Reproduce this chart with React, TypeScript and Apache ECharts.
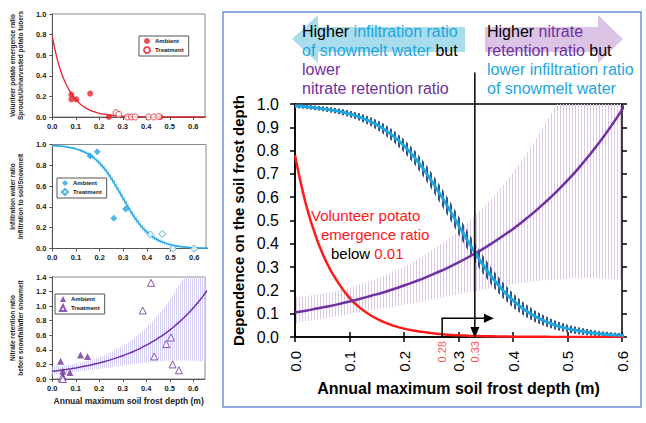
import React, { useEffect, useRef } from 'react';
import * as echarts from 'echarts';

// ---------- data ----------
const depth = [0, 0.02, 0.04, 0.06, 0.08, 0.1, 0.12, 0.14, 0.16, 0.18, 0.2, 0.22, 0.24, 0.26, 0.28, 0.3, 0.32, 0.34, 0.36, 0.38, 0.4, 0.42, 0.44, 0.46, 0.48, 0.5, 0.52, 0.54, 0.56, 0.58, 0.6, 0.62, 0.64, 0.66];
const potatoRatio = [0.78, 0.57, 0.42, 0.31, 0.23, 0.168, 0.124, 0.091, 0.067, 0.049, 0.036, 0.027, 0.02, 0.014, 0.0098, 0.0072, 0.0053, 0.0039, 0.0029, 0.0021, 0.0015, 0.0011, 0.0008, 0.0006, 0.0004, 0.0003, 0.0002, 0.0002, 0.0001, 0.0001, 0.0001, 0, 0, 0];
const infiltrationRatio = [0.991, 0.988, 0.983, 0.977, 0.969, 0.958, 0.943, 0.923, 0.897, 0.863, 0.821, 0.769, 0.707, 0.636, 0.56, 0.48, 0.401, 0.327, 0.261, 0.204, 0.157, 0.119, 0.089, 0.067, 0.049, 0.036, 0.027, 0.019, 0.014, 0.01, 0.008, 0.006, 0.004, 0.003];
const infiltrationErr = [0.008, 0.009, 0.01, 0.011, 0.012, 0.014, 0.016, 0.019, 0.022, 0.025, 0.028, 0.031, 0.034, 0.037, 0.039, 0.04, 0.04, 0.039, 0.037, 0.034, 0.031, 0.028, 0.025, 0.022, 0.019, 0.017, 0.015, 0.013, 0.011, 0.01, 0.008, 0.007, 0.006, 0.005];
const nitrateRatio = [0.105, 0.113, 0.122, 0.131, 0.141, 0.152, 0.164, 0.177, 0.19, 0.205, 0.221, 0.238, 0.256, 0.276, 0.297, 0.32, 0.345, 0.371, 0.4, 0.431, 0.464, 0.5, 0.538, 0.58, 0.624, 0.672, 0.724, 0.78, 0.84, 0.905, 0.975, 1.05, 1.131, 1.218];
const nitrateLower = [0.058, 0.066, 0.074, 0.082, 0.09, 0.098, 0.106, 0.114, 0.122, 0.13, 0.138, 0.147, 0.156, 0.165, 0.174, 0.183, 0.192, 0.201, 0.21, 0.218, 0.226, 0.233, 0.239, 0.244, 0.248, 0.251, 0.252, 0.252, 0.251, 0.249, 0.246, 0.243, 0.24, 0.236];
const nitrateUpper = [0.17, 0.175, 0.182, 0.19, 0.2, 0.212, 0.226, 0.242, 0.26, 0.28, 0.302, 0.327, 0.355, 0.386, 0.42, 0.457, 0.498, 0.543, 0.592, 0.646, 0.705, 0.77, 0.84, 0.917, 1.0, 1.09, 1.19, 1.3, 1.42, 1.55, 1.69, 1.84, 2.0, 2.18];

const potatoAmbient = [[0.081, 0.218], [0.081, 0.172], [0.102, 0.172], [0.161, 0.227], [0.241, 0.0], [0.46, 0.0]];
const potatoTreatment = [[0.271, 0.042], [0.283, 0.026], [0.32, 0.0], [0.337, 0.0], [0.353, 0.0], [0.41, 0.0], [0.432, 0.0], [0.453, 0.006]];
const infilAmbient = [[0.16, 0.89], [0.19, 0.93], [0.26, 0.29], [0.31, 0.38]];
const infilTreatment = [[0.415, 0.135], [0.465, 0.14], [0.51, 0.0], [0.6, 0.0]];
const nitrateAmbient = [[0.035, 0.245], [0.045, 0.105], [0.045, 0.04], [0.075, 0.09], [0.12, 0.33], [0.15, 0.31]];
const nitrateTreatment = [[0.04, 0.01], [0.045, 0.0], [0.385, 0.94], [0.42, 1.32], [0.434, 0.31], [0.485, 0.48], [0.505, 0.57], [0.512, 0.2], [0.539, 0.12]];

const markerDepths = [0.27, 0.33];
const markerLabels = ['0.28', '0.33'];
const crossDepth = 0.33;

// ---------- styling ----------
const SANS = '"Liberation Sans", Arial, sans-serif';
const NARROW = '"Liberation Sans Narrow", "Liberation Sans", sans-serif';
const RED = '#ff1a1a';
const CYAN = '#1ea6e0';
const PURPLE = '#7030a0';

function stripes(color: string, period: number, width: number) {
  const c = document.createElement('canvas');
  c.width = period;
  c.height = 8;
  const ctx = c.getContext('2d')!;
  ctx.fillStyle = color;
  ctx.fillRect(0, 0, width, 8);
  return { image: c, repeat: 'repeat' };
}

function bandSeries(lo: number[], hi: number[], fill: any, yMax: number, xMax: number) {
  return {
    type: 'custom',
    silent: true,
    clip: true,
    z: 1,
    data: depth.map((x, i) => [x, lo[i], hi[i]]),
    encode: { x: 0, y: [1, 2] },
    renderItem: (params: any, api: any) => {
      if (params.dataIndex !== 0) return null;
      const top: number[][] = [];
      const bot: number[][] = [];
      depth.forEach((x, i) => {
        if (x > xMax + 1e-9) return;
        top.push(api.coord([x, Math.min(hi[i], yMax)]));
        bot.push(api.coord([x, Math.max(0, Math.min(lo[i], yMax))]));
      });
      return {
        type: 'polygon',
        shape: { points: top.concat(bot.reverse()) },
        style: { fill, stroke: null },
      };
    },
  };
}

const pairs = (ys: number[]) => depth.map((x, i) => [x, ys[i]]);

function smallAxes(yMax: number, yName: string, nameGap: number) {
  return {
    xAxis: {
      type: 'value', min: 0, max: 0.65, interval: 0.1,
      axisLine: { show: true, lineStyle: { color: '#555', width: 1 } },
      axisTick: { show: true, length: 3, lineStyle: { color: '#555' } },
      axisLabel: { fontSize: 7.5, fontWeight: 'bold', color: '#222', margin: 5, showMaxLabel: false, formatter: (v: number) => v.toFixed(1) },
      splitLine: { show: false },
    },
    yAxis: {
      type: 'value', min: 0, max: yMax, interval: 0.2,
      axisLine: { show: true, lineStyle: { color: '#555', width: 1 } },
      axisTick: { show: true, length: 3, lineStyle: { color: '#555' } },
      axisLabel: { fontSize: 7.5, fontWeight: 'bold', color: '#222', margin: 6, formatter: (v: number) => v.toFixed(1) },
      splitLine: { show: false },
      name: yName, nameLocation: 'middle', nameGap,
      nameTextStyle: { fontSize: 6.5, fontWeight: 'bold', color: '#222', lineHeight: 8.5 },
    },
  };
}

function smallLegend(left: number, top: number) {
  return {
    data: ['Ambient', 'Treatment'], left, top, orient: 'vertical',
    itemWidth: 6, itemHeight: 6, itemGap: 2, padding: [2, 5, 2, 4],
    borderColor: '#555', borderWidth: 1, backgroundColor: '#fff',
    textStyle: { fontSize: 6, color: '#222', fontWeight: 'bold', fontFamily: SANS },
  };
}

export default function App() {
  const r1 = useRef<HTMLDivElement>(null);
  const r2 = useRef<HTMLDivElement>(null);
  const r3 = useRef<HTMLDivElement>(null);
  const rMain = useRef<HTMLDivElement>(null);

  useEffect(() => {
    const charts: any[] = [];
    const mk = (el: HTMLDivElement | null, opt: any) => {
      const c = echarts.init(el!, null, { renderer: 'svg' });
      c.setOption(opt);
      charts.push(c);
      return c;
    };

    // chart 1: volunteer potato
    const a1 = smallAxes(1.0, 'Volunteer potato emergence ratio\nSprouts/Unharvested potato tubers', 24);
    mk(r1.current, {
      animation: false,
      textStyle: { fontFamily: SANS },
      grid: { left: 52, top: 14, width: 153, height: 103, show: true, borderColor: '#888', borderWidth: 1 },
      ...a1,
      legend: smallLegend(139, 36),
      series: [
        { type: 'line', data: pairs(potatoRatio), showSymbol: false, smooth: 0.4, lineStyle: { color: '#e8202a', width: 1.3 }, silent: true, z: 2 },
        { type: 'scatter', name: 'Ambient', data: potatoAmbient, symbol: 'circle', symbolSize: 6, itemStyle: { color: '#e8202a' }, z: 3 },
        { type: 'scatter', name: 'Treatment', data: potatoTreatment, symbol: 'circle', symbolSize: 6, itemStyle: { color: '#fff', borderColor: '#e8202a', borderWidth: 1 }, z: 3 },
      ],
    });

    // chart 2: infiltration
    const a2 = smallAxes(1.0, 'Infiltration water ratio\nInfiltration to soil/Snowmelt', 23);
    mk(r2.current, {
      animation: false,
      textStyle: { fontFamily: SANS },
      grid: { left: 52, top: 9.5, width: 154, height: 104, show: true, borderColor: '#888', borderWidth: 1 },
      ...a2,
      legend: smallLegend(57, 43),
      series: [
        bandSeries(infiltrationRatio.map((v, i) => v - infiltrationErr[i]), infiltrationRatio.map((v, i) => v + infiltrationErr[i]), stripes('#b4dcf2', 2, 1), 1.0, 0.66),
        { type: 'line', data: pairs(infiltrationRatio), showSymbol: false, smooth: 0.4, lineStyle: { color: '#27a3dd', width: 1.5 }, silent: true, z: 2 },
        { type: 'scatter', name: 'Ambient', data: infilAmbient, symbol: 'diamond', symbolSize: 7, itemStyle: { color: '#27a3dd' }, z: 3 },
        { type: 'scatter', name: 'Treatment', data: infilTreatment, symbol: 'diamond', symbolSize: 7, itemStyle: { color: '#fff', borderColor: '#27a3dd', borderWidth: 1 }, z: 3 },
      ],
    });

    // chart 3: nitrate
    const a3 = smallAxes(1.4, 'Nitrate retention ratio\nbefore snowfall/after snowmelt', 23);
    mk(r3.current, {
      animation: false,
      textStyle: { fontFamily: SANS },
      grid: { left: 52, top: 15, width: 153, height: 102, show: true, borderColor: '#888', borderWidth: 1 },
      xAxis: {
        ...a3.xAxis,
        name: 'Annual maximum soil frost depth (m)', nameLocation: 'middle', nameGap: 15,
        nameTextStyle: { fontSize: 8.5, fontWeight: 'bold', color: '#222' },
      },
      yAxis: a3.yAxis,
      legend: smallLegend(55, 32),
      series: [
        bandSeries(nitrateLower, nitrateUpper, stripes('#d4d0ef', 2, 1), 1.4, 0.66),
        { type: 'line', data: pairs(nitrateRatio), showSymbol: false, smooth: 0.4, lineStyle: { color: PURPLE, width: 1.5 }, silent: true, z: 2 },
        { type: 'scatter', name: 'Ambient', data: nitrateAmbient, symbol: 'triangle', symbolSize: 7, itemStyle: { color: PURPLE }, z: 3 },
        { type: 'scatter', name: 'Treatment', data: nitrateTreatment, symbol: 'triangle', symbolSize: 7, itemStyle: { color: '#fff', borderColor: PURPLE, borderWidth: 1 }, z: 3 },
      ],
    });

    // main chart
    const tickStyle = { color: '#000', width: 1.5 };
    const main = mk(rMain.current, {
      animation: false,
      textStyle: { fontFamily: SANS },
      grid: { left: 77, top: 104, width: 327, height: 233, show: true, borderColor: '#000', borderWidth: 1.5 },
      xAxis: [
        {
          type: 'value', min: 0, max: 0.6, interval: 0.1,
          axisLine: { show: true, lineStyle: tickStyle },
          axisTick: { show: true, length: 5, lineStyle: tickStyle },
          axisLabel: { rotate: 90, margin: 14, fontSize: 15, color: '#000', fontFamily: NARROW, formatter: (v: number) => v.toFixed(1) },
          splitLine: { show: false },
          name: 'Annual maximum soil frost depth (m)', nameLocation: 'middle', nameGap: 43,
          nameTextStyle: { fontSize: 16, fontWeight: 'bold', color: '#000', fontFamily: SANS },
        },
        {
          type: 'value', min: 0, max: 0.6, interval: 0.1, position: 'top', offset: -233,
          axisLine: { show: false }, axisTick: { show: true, length: 5, lineStyle: tickStyle },
          axisLabel: { show: false }, splitLine: { show: false },
        },
      ],
      yAxis: [
        {
          type: 'value', min: 0, max: 1, interval: 0.1,
          axisLine: { show: true, lineStyle: tickStyle },
          axisTick: { show: true, length: 5, lineStyle: tickStyle },
          axisLabel: { margin: 16, fontSize: 16, color: '#000', formatter: (v: number) => v.toFixed(1) },
          splitLine: { show: false },
          name: 'Dependence on the soil frost depth', nameLocation: 'middle', nameGap: 49,
          nameTextStyle: { fontSize: 15, fontWeight: 'bold', color: '#000', fontFamily: SANS },
        },
        {
          type: 'value', min: 0, max: 1, interval: 0.1, position: 'right', offset: -327,
          axisLine: { show: false }, axisTick: { show: true, length: 5, lineStyle: tickStyle },
          axisLabel: { show: false }, splitLine: { show: false },
        },
      ],
      series: [
        bandSeries(nitrateLower, nitrateUpper, stripes('#dcc8ea', 3, 1), 1.0, 0.6),
        bandSeries(infiltrationRatio.map((v, i) => v - infiltrationErr[i]), infiltrationRatio.map((v, i) => v + infiltrationErr[i]), stripes('#34568a', 4, 2), 1.0, 0.6),
        { type: 'line', data: pairs(potatoRatio), showSymbol: false, smooth: 0.4, lineStyle: { color: RED, width: 2.5 }, silent: true, z: 3 },
        { type: 'line', data: pairs(nitrateRatio), showSymbol: false, smooth: 0.4, lineStyle: { color: PURPLE, width: 2.5 }, silent: true, z: 3 },
        { type: 'line', data: pairs(infiltrationRatio), showSymbol: false, smooth: 0.4, lineStyle: { color: CYAN, width: 3 }, silent: true, z: 4 },
        {
          type: 'scatter', silent: true, symbolSize: 0, z: 5,
          data: markerDepths.map((x, i) => [x, 0, markerLabels[i]]),
          label: {
            show: true, position: 'bottom', distance: 4, rotate: 90, align: 'right', verticalAlign: 'middle',
            color: RED, fontSize: 11, fontFamily: NARROW, formatter: (p: any) => p.data[2],
          },
        },
      ],
    });

    const px = (x: number, y: number) => main.convertToPixel({ xAxisIndex: 0, yAxisIndex: 0 }, [x, y]) as number[];
    const [vx, vTop] = px(crossDepth, 1.135);
    const [, vBot] = px(crossDepth, 0);
    const [lx, lBot] = px(markerDepths[0], 0);
    const [, lTop] = px(markerDepths[0], 0.08);
    const [ax] = px(0.365, 0.08);

    const hdr = { fontSize: 16, fontFamily: SANS, lineHeight: 19 };
    const rich = {
      k: { ...hdr, fill: '#000' },
      c: { ...hdr, fill: CYAN },
      p: { ...hdr, fill: PURPLE },
      r: { fontSize: 15, fontFamily: SANS, fill: RED },
      b: { fontSize: 15, fontFamily: SANS, fill: '#000' },
    };

    main.setOption({
      graphic: [
        { type: 'rect', z: 1, shape: { x: 5, y: 12, width: 418, height: 395 }, style: { fill: 'none', stroke: '#6e91d2', lineWidth: 1.5 } },
        { type: 'polygon', z: 1, shape: { points: [[74, 39], [100, 15], [100, 27], [247, 27], [247, 52], [100, 52], [100, 63]] }, style: { fill: '#a9dcec' } },
        { type: 'polygon', z: 1, shape: { points: [[267, 27], [380, 27], [380, 15], [405, 39], [380, 63], [380, 52], [267, 52]] }, style: { fill: '#dcc4e6' } },
        {
          type: 'text', z: 5, x: 84, y: 22,
          style: { text: '{k|Higher} {c|infiltration ratio}\n{c|of snowmelt water} {k|but}\n{p|lower}\n{p|nitrate retention ratio}', rich, fontSize: 16, fontFamily: SANS, lineHeight: 19 },
        },
        {
          type: 'text', z: 5, x: 269, y: 22,
          style: { text: '{k|Higher} {p|nitrate}\n{p|retention ratio} {k|but}\n{c|lower infiltration ratio}\n{c|of snowmelt water}', rich, fontSize: 16, fontFamily: SANS, lineHeight: 19 },
        },
        { type: 'text', z: 20, x: 93, y: 215, style: { text: 'Volunteer potato', fill: RED, fontSize: 15, fontFamily: SANS, verticalAlign: 'middle' } },
        { type: 'text', z: 20, x: 103, y: 234, style: { text: 'emergence ratio', fill: RED, fontSize: 15, fontFamily: SANS, verticalAlign: 'middle' } },
        { type: 'text', z: 20, x: 113, y: 253, style: { text: '{b|below} {r|0.01}', rich, fontSize: 15, fontFamily: SANS, verticalAlign: 'middle' } },
        { type: 'polyline', z: 30, shape: { points: [[vx, vTop], [vx, vBot - 9]] }, style: { stroke: '#000', lineWidth: 1.5, fill: 'none' } },
        { type: 'polygon', z: 30, shape: { points: [[vx - 4.5, vBot - 10], [vx + 4.5, vBot - 10], [vx, vBot + 1]] }, style: { fill: '#000' } },
        { type: 'polyline', z: 30, shape: { points: [[lx, lBot], [lx, lTop], [ax - 9, lTop]] }, style: { stroke: '#000', lineWidth: 1.5, fill: 'none' } },
        { type: 'polygon', z: 30, shape: { points: [[ax - 10, lTop - 4.5], [ax - 10, lTop + 4.5], [ax, lTop]] }, style: { fill: '#000' } },
      ],
    });

    return () => charts.forEach((c) => c.dispose());
  }, []);

  const abs = (left: number, top: number, width: number, height: number): React.CSSProperties => ({ position: 'absolute', left, top, width, height });
  return (
    <div style={{ position: 'fixed', left: 0, top: 0, width: 646, height: 423, background: '#fff' }}>
      <div ref={r1} style={abs(0, 0, 218, 135)} />
      <div ref={r2} style={abs(0, 135, 218, 127)} />
      <div ref={r3} style={abs(0, 262, 218, 161)} />
      <div ref={rMain} style={abs(218, 0, 428, 423)} />
    </div>
  );
}
